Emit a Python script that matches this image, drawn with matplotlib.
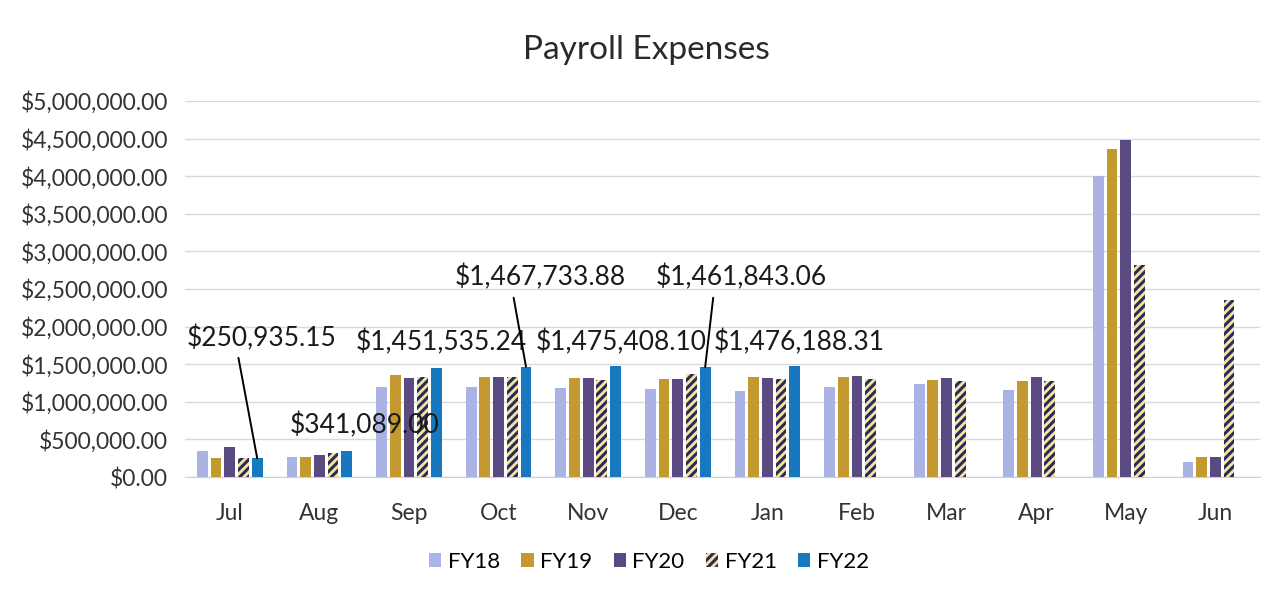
import matplotlib.pyplot as plt
import matplotlib.ticker as mticker
import numpy as np

months = ['Jul', 'Aug', 'Sep', 'Oct', 'Nov', 'Dec', 'Jan', 'Feb', 'Mar', 'Apr', 'May', 'Jun']
fy18 = [346000, 270000, 1200000, 1200000, 1180000, 1170000, 1150000, 1200000, 1240000, 1160000, 4000000, 200000]
fy19 = [250000, 270000, 1360000, 1330000, 1320000, 1300000, 1330000, 1330000, 1290000, 1280000, 4360000, 270000]
fy20 = [400000, 290000, 1320000, 1330000, 1320000, 1300000, 1320000, 1340000, 1320000, 1330000, 4480000, 270000]
fy21 = [250000, 320000, 1330000, 1330000, 1290000, 1370000, 1300000, 1300000, 1280000, 1270000, 2820000, 2350000]
fy22 = [250935.15, 341089.00, 1451535.24, 1467733.88, 1475408.10, 1461843.06, 1476188.31]

plt.rcParams['font.family'] = ['Lato', 'DejaVu Sans']
plt.rcParams['hatch.linewidth'] = 2.2

fig = plt.figure(figsize=(12.8, 5.93), dpi=100)
ax = fig.add_axes([0.1445, 0.1956, 0.84, 0.6341])

x = np.arange(len(months))
w = 0.12
step = 0.153
series = [
    ('FY18', fy18, '#aab3e4', None),
    ('FY19', fy19, '#c49a30', None),
    ('FY20', fy20, '#5b4a82', None),
    ('FY21', fy21, '#f3e6a0', '////'),
    ('FY22', fy22, '#1878bf', None),
]
for i, (name, vals, col, hatch) in enumerate(series):
    xs = x[:len(vals)] + (i - 2) * step
    if hatch:
        ax.bar(xs, vals, w, color=col, edgecolor='#2d2a5c', hatch=hatch, linewidth=0, label=name, zorder=3)
    else:
        ax.bar(xs, vals, w, color=col, label=name, zorder=3)

ax.set_xlim(-0.5, 11.5)
ax.set_ylim(0, 5000000)
ax.yaxis.set_major_locator(mticker.MultipleLocator(500000))
ax.yaxis.set_major_formatter(mticker.FuncFormatter(lambda v, p: '${:,.2f}'.format(v)))
ax.set_xticks(x)
ax.set_xticklabels(months)
ax.tick_params(axis='both', length=0, labelsize=16.5, colors='#333333')
ax.tick_params(axis='y', pad=12)
ax.tick_params(axis='x', pad=19)
ax.grid(axis='y', color='#d9d9d9', linewidth=1, zorder=0)
for s in ['top', 'right', 'left']:
    ax.spines[s].set_visible(False)
ax.spines['bottom'].set_color('#d0d0d0')

fig.text(0.505, 1 - 50 / 593, 'Payroll Expenses', ha='center', va='center', fontsize=24, color='#2a2a2a')

# data labels for FY22
lab_pos = [(0.35, 1850000), (1.51, 690000), (2.36, 1790000), (3.46, 2650000), (4.37, 1790000), (5.71, 2650000), (6.35, 1790000)]
arrows = [True, False, False, True, False, True, False]
for i, v in enumerate(fy22):
    bx = x[i] + 2 * step
    tx, ty = lab_pos[i]
    if arrows[i]:
        ax.annotate('${:,.2f}'.format(v), xy=(bx, v), xytext=(tx, ty), ha='center', va='center',
                    fontsize=19, color='#1a1a1a',
                    arrowprops=dict(arrowstyle='-', color='black', lw=1.4, shrinkA=3, shrinkB=0,
                                    relpos=(0.34, 0)), zorder=5)
    else:
        ax.text(tx, ty, '${:,.2f}'.format(v), ha='center', va='center', fontsize=19, color='#1a1a1a', zorder=5)

fig.legend(loc='center', bbox_to_anchor=(0.507, 1 - 562 / 593), ncol=5, frameon=False, fontsize=16,
           handlelength=0.55, handleheight=0.55, handletextpad=0.3, columnspacing=0.95)

fig.savefig('out.png', dpi=100)
